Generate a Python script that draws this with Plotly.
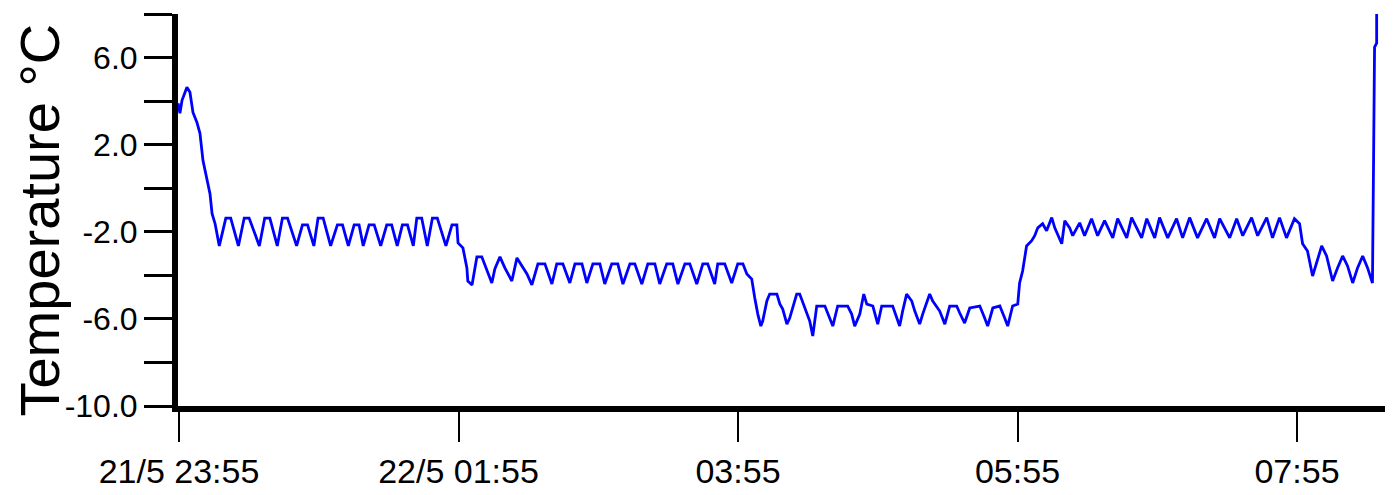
import pandas as pd
import plotly.graph_objects as go

# Time offsets in minutes from 21/5 23:55 and logged temperature (°C)
minutes = [
    -0.4, 0.4, 1.3, 3.4, 4.7, 6.0, 7.7, 9.0, 10.3, 12.0, 13.3, 14.2, 15.5, 17.3,
    20.1, 22.2, 25.5, 28.0, 30.1, 34.5, 36.8, 39.0, 42.2, 44.4, 46.6, 50.5,
    53.0, 55.2, 57.9, 59.7, 61.9, 65.1, 68.0, 70.2, 72.7, 75.2, 77.3, 79.1,
    81.6, 83.8, 86.6, 89.2, 91.3, 93.7, 95.9, 98.1, 100.6, 102.1, 104.2, 106.6,
    108.8, 110.9, 114.6, 117.2, 119.3,
    119.8, 121.9, 123.6, 124.0, 125.8,
    127.0, 127.9, 130.0, 132.2, 134.3, 135.6, 137.8, 139.9, 142.9, 145.1, 147.2,
    149.4, 151.5, 154.1, 157.1, 160.1, 162.2, 164.8, 167.8, 170.0, 173.0, 175.1,
    177.7, 180.7, 182.8, 185.8, 188.4, 190.6, 193.6, 195.7, 198.7, 201.3, 204.3,
    206.4, 209.4, 212.0, 214.2, 217.2, 219.3, 222.3, 224.9, 227.0, 230.0, 231.3,
    234.3, 237.3, 239.9, 242.1, 243.8, 245.9, 247.2, 248.5, 249.8, 250.6, 252.4,
    253.6, 256.7, 258.0, 259.2, 261.0, 262.2, 265.2, 266.5, 268.7, 270.8, 272.1,
    273.0, 273.8, 277.3, 279.4, 280.7, 282.8, 287.1, 288.8, 290.1, 292.3, 294.0,
    295.3, 297.9, 300.0, 301.7, 306.4, 308.2, 309.4, 310.7, 312.4, 314.6, 315.9,
    318.0, 319.3, 322.3, 323.6, 326.6, 328.8, 330.9, 333.9, 335.2, 337.3, 339.5,
    343.8, 345.9, 347.2, 349.4, 352.4, 354.5, 355.8, 357.9, 360.1, 360.9, 362.2,
    363.9, 366.1, 367.4, 368.7, 370.8, 372.5, 374.7, 376.0, 379.0, 380.3, 382.4,
    383.7, 386.7, 388.8, 391.8, 394.4, 397.4, 400.9, 403.0, 406.9, 409.0, 413.3,
    415.5, 418.9, 421.0, 424.5, 428.3, 430.9, 433.9, 437.3, 441.2, 444.6, 446.8,
    451.1, 454.1, 456.7, 460.5, 463.1, 467.0, 469.5, 472.5, 475.5, 478.9, 481.1,
    482.4, 484.5, 486.7, 488.4, 490.6, 492.7, 495.3, 497.4, 499.6, 501.7, 503.9,
    506.0, 508.2, 510.3, 512.4, 512.9, 513.3, 514.2, 514.2,
]
temperature = [
    3.90, 3.44, 4.04, 4.64, 4.41, 3.48, 3.02, 2.52, 1.27, 0.35, -0.25, -1.17, -1.63, -2.65,
    -1.37, -1.37, -2.65, -1.37, -1.37, -2.65, -1.37, -1.37, -2.65, -1.37, -1.37, -2.65,
    -1.68, -1.68, -2.65, -1.37, -1.37, -2.65, -1.68, -1.68, -2.65, -1.68, -1.68, -2.65,
    -1.68, -1.68, -2.65, -1.68, -1.68, -2.65, -1.68, -1.68, -2.65, -1.37, -1.37, -2.65,
    -1.37, -1.37, -2.65, -1.68, -1.68,
    -2.51, -2.74, -3.66, -4.26, -4.44,
    -3.80, -3.15, -3.15, -3.80, -4.35, -3.71, -3.15, -3.66, -4.26, -3.20, -3.57,
    -3.94, -4.44, -3.47, -3.47, -4.40, -3.47, -3.47, -4.35, -3.47, -3.47, -4.35,
    -3.47, -3.47, -4.40, -3.47, -3.47, -4.40, -3.47, -3.47, -4.40, -3.47, -3.47,
    -4.40, -3.47, -3.47, -4.40, -3.47, -3.47, -4.40, -3.47, -3.47, -4.40, -3.47,
    -3.47, -4.35, -3.47, -3.47, -3.94, -4.17, -5.04, -5.78, -6.33, -6.10, -5.18,
    -4.86, -4.86, -5.32, -5.55, -6.24, -5.96, -4.86, -4.86, -5.50, -6.10, -6.79,
    -5.96, -5.41, -5.41, -5.96, -6.33, -5.41, -5.41, -5.78, -6.33, -5.78, -4.86,
    -5.32, -5.41, -6.24, -5.41, -5.41, -5.96, -6.33, -5.64, -4.86, -5.18, -5.64,
    -6.24, -5.78, -4.86, -5.18, -5.64, -6.24, -5.41, -5.41, -5.73, -6.19, -5.50,
    -5.41, -5.96, -6.33, -5.50, -5.41, -5.96, -6.33, -5.41, -5.32, -4.35, -3.80,
    -2.65, -2.41, -2.18, -1.82, -1.63, -1.95, -1.35, -1.82, -2.55, -1.49, -1.82,
    -2.18, -1.59, -2.18, -1.40, -2.18, -1.49, -2.28, -1.40, -2.28, -1.35, -2.28,
    -1.40, -2.28, -1.35, -2.28, -1.40, -2.28, -1.35, -2.28, -1.40, -2.28, -1.40,
    -2.28, -1.40, -2.18, -1.35, -2.18, -1.35, -2.28, -1.35, -2.28, -1.40, -1.63,
    -2.55, -2.88, -4.03, -3.47, -2.65, -3.11, -4.26, -3.66, -3.11, -3.57, -4.35,
    -3.66, -3.11, -3.66, -4.35, 1.59, 6.48, 6.66, 8.09,
]

start_time = "2023-05-21 23:55"
x_tick_minutes = [0, 120, 240, 360, 480]
x_tick_labels = ["21/5 23:55", "22/5 01:55", "03:55", "05:55", "07:55"]
y_tick_values = [-10, -8, -6, -4, -2, 0, 2, 4, 6, 8]
y_tick_labels = ["-10.0", "", "-6.0", "", "-2.0", "", "2.0", "", "6.0", ""]
x_range_minutes = [-0.43, 519.5]
y_range = [-10, 8]

base = pd.Timestamp(start_time)
times = base + pd.to_timedelta(minutes, unit="m")
tick_times = base + pd.to_timedelta(x_tick_minutes, unit="m")
x_range = base + pd.to_timedelta(x_range_minutes, unit="m")

fig = go.Figure()
fig.add_trace(go.Scatter(
    x=times, y=temperature, mode="lines",
    line=dict(color="#0000FF", width=2.8),
    showlegend=False, hoverinfo="x+y",
))

# The page body has an 8 px default margin, so the figure is sized to fit beside it.
fig.update_layout(
    width=1385, height=487,
    margin=dict(l=170, r=4, t=6, b=89),
    paper_bgcolor="white", plot_bgcolor="white",
    font=dict(family="Liberation Sans, Arial, sans-serif", color="black"),
    annotations=[dict(
        text="Temperature °C", textangle=-90,
        xref="paper", yref="paper", x=-0.1145, y=0.474,
        xanchor="center", yanchor="middle", showarrow=False,
        font=dict(size=56, family="Liberation Sans, Arial, sans-serif", color="black"),
    )],
)
fig.update_xaxes(
    type="date", range=list(x_range),
    tickvals=list(tick_times), ticktext=x_tick_labels,
    showgrid=False, zeroline=False, automargin=False,
    showline=True, linecolor="black", linewidth=6,
    ticks="outside", ticklen=30, tickwidth=2, tickcolor="black",
    tickfont=dict(size=34, family="Liberation Sans, Arial, sans-serif"),
)
fig.update_yaxes(
    range=y_range, tickvals=y_tick_values, ticktext=y_tick_labels,
    showgrid=False, zeroline=False, automargin=False,
    showline=True, linecolor="black", linewidth=6,
    ticks="outside", ticklen=28, tickwidth=3, tickcolor="black",
    tickfont=dict(size=32, family="Liberation Sans, Arial, sans-serif"),
)

fig.write_html("out.html")
